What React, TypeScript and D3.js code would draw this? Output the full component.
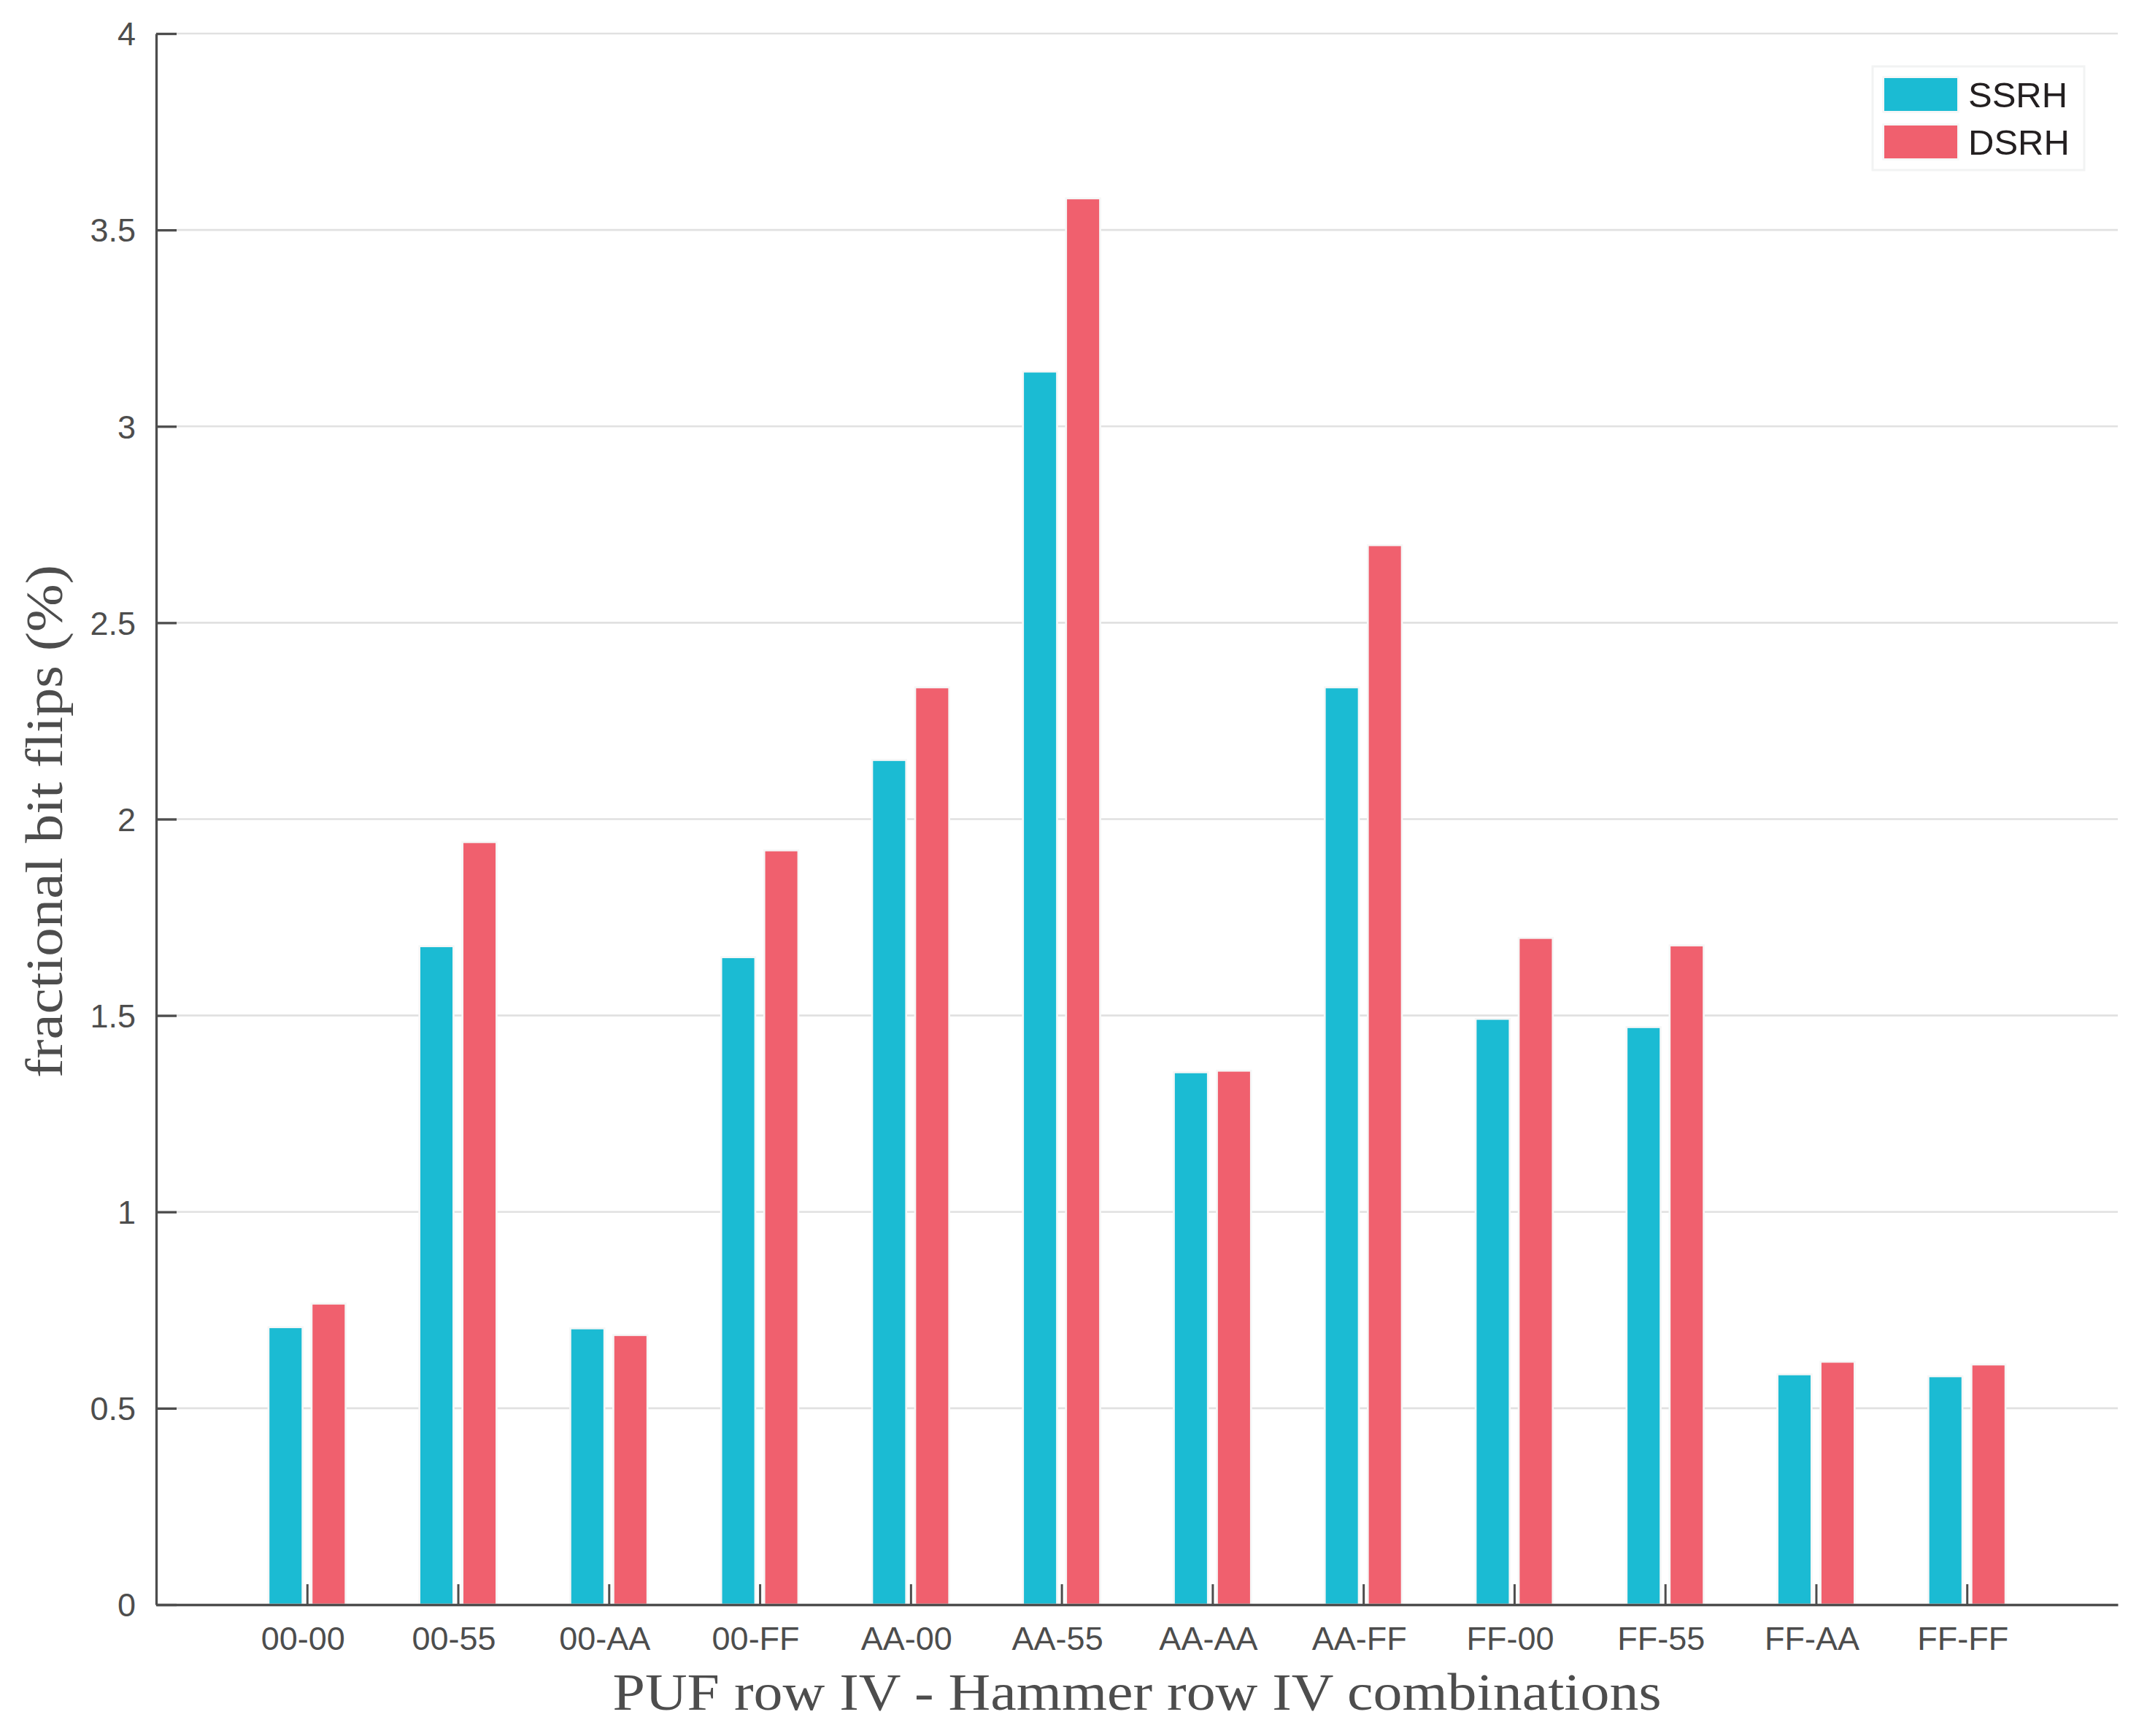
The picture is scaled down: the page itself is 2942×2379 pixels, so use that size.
import React, { useEffect, useRef } from 'react';
import * as d3 from 'd3';

// Combinations (PUF row IV - Hammer row IV)
const categories = ['00-00', '00-55', '00-AA', '00-FF', 'AA-00', 'AA-55', 'AA-AA', 'AA-FF', 'FF-00', 'FF-55', 'FF-AA', 'FF-FF'];
const seriesNames = ['SSRH', 'DSRH'];
const ssrhValues = [0.704, 1.674, 0.701, 1.646, 2.148, 3.137, 1.353, 2.333, 1.489, 1.468, 0.584, 0.579];
const dsrhValues = [0.764, 1.939, 0.684, 1.918, 2.333, 3.578, 1.357, 2.695, 1.695, 1.676, 0.616, 0.609];
const yTicks = [0, 0.5, 1, 1.5, 2, 2.5, 3, 3.5, 4];
const seriesColors = ['#1BBBD3', '#F0606E'];

const W = 2942;
const H = 2379;
const AXIS = '#4d4d4d';
const SANS = '"Liberation Sans", Arial, Helvetica, sans-serif';
const SERIF = '"Liberation Serif", "Times New Roman", serif';

export default function App() {
  const svgRef = useRef<SVGSVGElement>(null);

  useEffect(() => {
    if (!svgRef.current) return;
    const svg = d3.select(svgRef.current);
    svg.selectAll('*').remove();

    const left = 214, right = 2902, top = 46, bottom = 2199;

    const x = d3.scaleLinear().domain([0, categories.length + 1]).range([left, right]);
    const y = d3.scaleLinear().domain([0, 4]).range([bottom, top]);

    const barW = x(0.213) - x(0);
    const offsets = [-0.1427, 0.1427];
    const series = [ssrhValues, dsrhValues];

    svg.append('rect').attr('width', W).attr('height', H).attr('fill', '#ffffff');

    // Grid lines
    svg.append('g')
      .selectAll('line')
      .data(yTicks.filter(t => t > 0))
      .join('line')
      .attr('x1', left)
      .attr('x2', right)
      .attr('y1', d => y(d))
      .attr('y2', d => y(d))
      .attr('stroke', '#e1e1e1')
      .attr('stroke-width', 2.7);

    // Bars
    series.forEach((vals, s) => {
      svg.append('g')
        .selectAll('rect')
        .data(vals)
        .join('rect')
        .attr('x', (_, i) => x(i + 1 + offsets[s]) - barW / 2 - 1.35)
        .attr('width', barW + 2.7)
        .attr('y', d => y(d) - 1.35)
        .attr('height', d => y(0) - y(d) + 1.35)
        .attr('fill', seriesColors[s])
        .attr('stroke', '#f6f7f7')
        .attr('stroke-width', 2.7);
    });

    // Y axis
    const yAxis = d3.axisLeft(y)
      .tickValues(yTicks)
      .tickSize(-28)
      .tickSizeOuter(0)
      .tickPadding(28)
      .tickFormat(d => d3.format('~g')(d as number));

    svg.append('g')
      .attr('transform', `translate(${left},0)`)
      .call(yAxis)
      .call(g => g.select('.domain').attr('stroke', AXIS).attr('stroke-width', 3.3))
      .call(g => g.selectAll('.tick line').attr('stroke', AXIS).attr('stroke-width', 3.3))
      .call(g => g.selectAll('.tick text')
        .attr('fill', AXIS)
        .attr('font-family', SANS)
        .attr('font-size', 45)
        .attr('dy', '0.35em'));

    // X axis
    const xAxis = d3.axisBottom(x)
      .tickValues(categories.map((_, i) => i + 1))
      .tickSize(-28)
      .tickSizeOuter(0)
      .tickPadding(62)
      .tickFormat(d => categories[(d as number) - 1]);

    svg.append('g')
      .attr('transform', `translate(0,${bottom})`)
      .call(xAxis)
      .call(g => g.select('.domain').attr('stroke', AXIS).attr('stroke-width', 3.3))
      .call(g => g.selectAll('.tick line').attr('stroke', AXIS).attr('stroke-width', 3))
      .call(g => g.selectAll('.tick text')
        .attr('fill', AXIS)
        .attr('font-family', SANS)
        .attr('font-size', 45)
        .attr('dx', -6)
        .attr('dy', 0));

    // Axis titles
    svg.append('text')
      .attr('x', (left + right) / 2)
      .attr('y', 2343)
      .attr('text-anchor', 'middle')
      .attr('font-family', SERIF)
      .attr('font-size', 72)
      .attr('fill', AXIS)
      .attr('textLength', 1437)
      .attr('lengthAdjust', 'spacingAndGlyphs')
      .text('PUF row IV - Hammer row IV combinations');

    svg.append('text')
      .attr('transform', `translate(85,${(top + bottom) / 2 + 3}) rotate(-90)`)
      .attr('text-anchor', 'middle')
      .attr('font-family', SERIF)
      .attr('font-size', 72)
      .attr('fill', AXIS)
      .attr('textLength', 703)
      .attr('lengthAdjust', 'spacingAndGlyphs')
      .text('fractional bit flips (%)');

    // Legend
    const legend = svg.append('g');
    legend.append('rect')
      .attr('x', 2566)
      .attr('y', 91)
      .attr('width', 290)
      .attr('height', 142)
      .attr('fill', '#ffffff')
      .attr('stroke', '#f2f3f3')
      .attr('stroke-width', 3);

    seriesNames.forEach((name, s) => {
      const yy = 107 + s * 65;
      legend.append('rect')
        .attr('x', 2582 - 1.35)
        .attr('y', yy - 1.35)
        .attr('width', 100 + 2.7)
        .attr('height', 45 + 2.7)
        .attr('fill', seriesColors[s])
        .attr('stroke', '#f6f7f7')
        .attr('stroke-width', 2.7);
      legend.append('text')
        .attr('x', 2697)
        .attr('y', yy + 40)
        .attr('font-family', SANS)
        .attr('font-size', 49)
        .attr('fill', '#231f20')
        .text(name);
    });
  }, []);

  return (
    <div style={{ position: 'absolute', left: 0, top: 0 }}>
      <svg ref={svgRef} width={W} height={H} style={{ display: 'block' }} />
    </div>
  );
}
